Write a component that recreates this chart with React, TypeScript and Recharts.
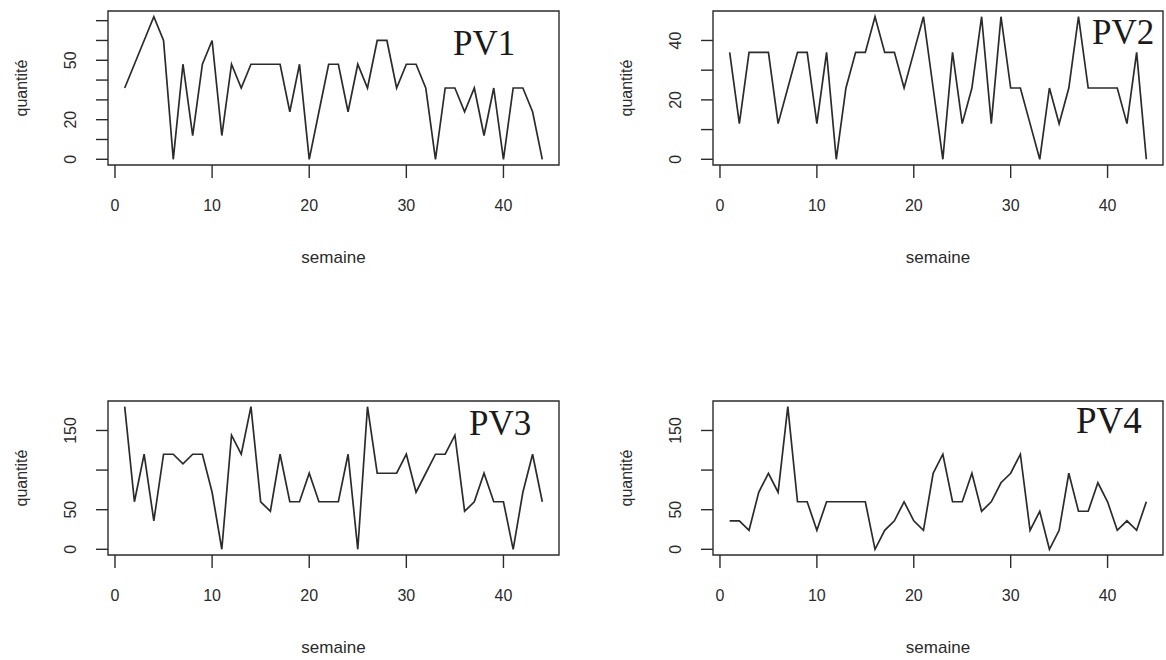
import { Line, LineChart, ReferenceArea, XAxis, YAxis } from 'recharts'

const weeks = [
  1, 2, 3, 4, 5, 6, 7, 8, 9, 10, 11, 12, 13, 14, 15, 16, 17, 18, 19, 20, 21, 22,
  23, 24, 25, 26, 27, 28, 29, 30, 31, 32, 33, 34, 35, 36, 37, 38, 39, 40, 41, 42, 43, 44,
]

const pv1 = [
  36, 48, 60, 72, 60, 0, 48, 12, 48, 60, 12, 48, 36, 48, 48, 48, 48, 24, 48, 0, 24, 48,
  48, 24, 48, 36, 60, 60, 36, 48, 48, 36, 0, 36, 36, 24, 36, 12, 36, 0, 36, 36, 24, 0,
]
const pv2 = [
  36, 12, 36, 36, 36, 12, 24, 36, 36, 12, 36, 0, 24, 36, 36, 48, 36, 36, 24, 36, 48, 24,
  0, 36, 12, 24, 48, 12, 48, 24, 24, 12, 0, 24, 12, 24, 48, 24, 24, 24, 24, 12, 36, 0,
]
const pv3 = [
  180, 60, 120, 36, 120, 120, 108, 120, 120, 72, 0, 144, 120, 180, 60, 48, 120, 60, 60, 96, 60, 60,
  60, 120, 0, 180, 96, 96, 96, 120, 72, 96, 120, 120, 144, 48, 60, 96, 60, 60, 0, 72, 120, 60,
]
const pv4 = [
  36, 36, 24, 72, 96, 72, 180, 60, 60, 24, 60, 60, 60, 60, 60, 0, 24, 36, 60, 36, 24, 96,
  120, 60, 60, 96, 48, 60, 84, 96, 120, 24, 48, 0, 24, 96, 48, 48, 84, 60, 24, 36, 24, 60,
]

const xTicks = [0, 10, 20, 30, 40]
const yTicksSmall = [0, 10, 20, 30, 40, 50, 60, 70]
const yTicksPv2 = [0, 10, 20, 30, 40]
const yTicksLarge = [0, 50, 100, 150]

const INK = '#2b2b2b'
const SANS = '"Liberation Sans", Arial, sans-serif'
const SERIF = '"Liberation Serif", "Times New Roman", serif'

const X_DOMAIN: [number, number] = [-0.72, 45.72]
const CW = 583
const CH = 330
const Y_W = 60
const X_H = 30

interface PanelProps {
  values: number[]
  title: string
  left: number
  top: number
  box: [number, number, number, number]
  yDomain: [number, number]
  yTicks: number[]
  yShown: number[]
  titlePos: [number, number, number]
}

function XTick(props: any) {
  const { x, y, payload } = props
  return (
    <text x={x} y={y + 31} textAnchor="middle" fontSize={16} fill={INK} fontFamily={SANS}>
      {payload.value}
    </text>
  )
}

function makeYTick(shown: number[]) {
  return function YTick(props: any) {
    const { x, y, payload } = props
    if (!shown.includes(payload.value)) return <g />
    const cx = x - 18
    return (
      <text
        x={cx}
        y={y}
        transform={`rotate(-90 ${cx} ${y})`}
        textAnchor="middle"
        fontSize={16}
        fill={INK}
        fontFamily={SANS}
      >
        {payload.value}
      </text>
    )
  }
}

function Panel({ values, title, left, top, box, yDomain, yTicks, yShown, titlePos }: PanelProps) {
  const data = weeks.map((w, i) => ({ week: w, q: values[i] }))
  const [x0, y0, x1, y1] = box
  const margin = {
    top: y0 - top,
    left: x0 - left - Y_W,
    right: left + CW - x1,
    bottom: top + CH - y1 - X_H,
  }
  const YTick = makeYTick(yShown)
  const midY = (y0 + y1) / 2
  return (
    <>
      <div style={{ position: 'absolute', left, top }}>
        <LineChart width={CW} height={CH} data={data} margin={margin}>
          <XAxis
            dataKey="week"
            type="number"
            domain={X_DOMAIN}
            ticks={xTicks}
            interval={0}
            allowDataOverflow
            height={X_H}
            tickSize={13}
            tick={<XTick />}
            axisLine={false}
            stroke={INK}
            strokeWidth={1.4}
          />
          <YAxis
            type="number"
            domain={yDomain}
            ticks={yTicks}
            interval={0}
            allowDataOverflow
            width={Y_W}
            tickSize={12}
            tick={<YTick />}
            axisLine={false}
            stroke={INK}
            strokeWidth={1.4}
          />
          <ReferenceArea
            x1={X_DOMAIN[0]}
            x2={X_DOMAIN[1]}
            y1={yDomain[0]}
            y2={yDomain[1]}
            fill="none"
            fillOpacity={0}
            stroke={INK}
            strokeWidth={1.4}
            ifOverflow="extendDomain"
          />
          <Line
            type="linear"
            dataKey="q"
            stroke={INK}
            strokeWidth={1.7}
            dot={false}
            isAnimationActive={false}
          />
        </LineChart>
      </div>
      <div
        style={{
          position: 'absolute',
          left: x0 - 86 - 40,
          top: midY - 10,
          width: 80,
          textAlign: 'center',
          transform: 'rotate(-90deg)',
          fontFamily: SANS,
          fontSize: 16,
          lineHeight: '20px',
          color: INK,
        }}
      >
        quantité
      </div>
      <div
        style={{
          position: 'absolute',
          left: (x0 + x1) / 2 - 60,
          top: y1 + 82,
          width: 120,
          textAlign: 'center',
          fontFamily: SANS,
          fontSize: 17,
          lineHeight: '22px',
          color: INK,
        }}
      >
        semaine
      </div>
      <div
        style={{
          position: 'absolute',
          left: titlePos[0],
          top: titlePos[1],
          fontFamily: SERIF,
          fontSize: titlePos[2],
          lineHeight: 1,
          color: '#1a1a1a',
          whiteSpace: 'nowrap',
        }}
      >
        {title}
      </div>
    </>
  )
}

export default function App() {
  return (
    <div
      style={{
        position: 'absolute',
        left: 0,
        top: 0,
        width: 1166,
        height: 660,
        background: '#fff',
        overflow: 'hidden',
      }}
    >
      <Panel
        values={pv1}
        title="PV1"
        left={0}
        top={0}
        box={[108, 11, 559, 165]}
        yDomain={[-2.88, 74.88]}
        yTicks={yTicksSmall}
        yShown={[0, 20, 50]}
        titlePos={[453, 26, 35]}
      />
      <Panel
        values={pv2}
        title="PV2"
        left={583}
        top={0}
        box={[713, 11, 1163, 165]}
        yDomain={[-1.92, 49.92]}
        yTicks={yTicksPv2}
        yShown={[0, 20, 40]}
        titlePos={[1092, 15, 35]}
      />
      <Panel
        values={pv3}
        title="PV3"
        left={0}
        top={330}
        box={[108, 401, 559, 555]}
        yDomain={[-7.2, 187.2]}
        yTicks={yTicksLarge}
        yShown={[0, 50, 150]}
        titlePos={[469, 406, 35]}
      />
      <Panel
        values={pv4}
        title="PV4"
        left={583}
        top={330}
        box={[713, 401, 1163, 555]}
        yDomain={[-7.2, 187.2]}
        yTicks={yTicksLarge}
        yShown={[0, 50, 150]}
        titlePos={[1076, 402, 37]}
      />
    </div>
  )
}
